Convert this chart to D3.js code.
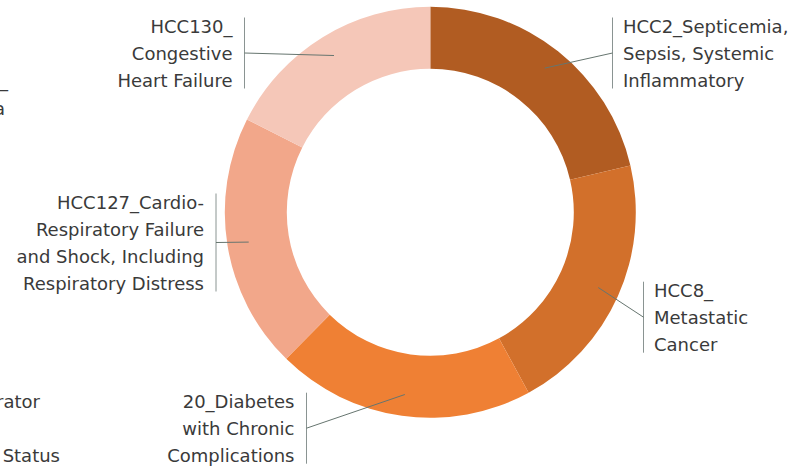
<!DOCTYPE html>
<html>
<head>
<meta charset="utf-8">
<script src="https://cdn.jsdelivr.net/npm/d3@7"></script>
<style>
  html, body { margin: 0; padding: 0; background: #fff; }
  svg { display: block; }
  text { font-family: "DejaVu Sans", sans-serif; font-size: 18px; fill: #3a3a3a; }
</style>
</head>
<body>
<svg id="chart" width="810" height="468"></svg>
<script>
// ---- data ----
const categories = [
  "HCC2_Septicemia, Sepsis, Systemic Inflammatory",
  "HCC8_Metastatic Cancer",
  "20_Diabetes with Chronic Complications",
  "HCC127_Cardio-Respiratory Failure and Shock, Including Respiratory Distress",
  "HCC130_Congestive Heart Failure"
];
const values = [21.35, 20.71, 20.31, 20.10, 17.54];
const labelLines = [
  ["HCC2_Septicemia,", "Sepsis, Systemic", "Inflammatory"],
  ["HCC8_", "Metastatic", "Cancer"],
  ["20_Diabetes", "with Chronic", "Complications"],
  ["HCC127_Cardio-", "Respiratory Failure", "and Shock, Including", "Respiratory Distress"],
  ["HCC130_", "Congestive", "Heart Failure"]
];
const colors = ["#b15c22", "#d2702b", "#ef8034", "#f2a78a", "#f5c7b8"];

// partially visible labels of a neighbouring chart (clipped at the left edge)
const offLabels = [
  { text: "HCC48_", x: 8, y: 87 },
  { text: "Anemia", x: 5, y: 115 },
  { text: "HCC82_Respirator", x: 40, y: 408 },
  { text: "Tracheostomy Status", x: 60, y: 462 }
];

// ---- layout ----
const cx = 430.3, cy = 212.3, rOuter = 205.5, rInner = 143.5, rLeader = 184;
const lineH = 27;
// label anchors: bar x, first baseline, side
const labelLayout = [
  { barX: 612.5, y0: 32.5, side: "right" },
  { barX: 643.5, y0: 296.7, side: "right" },
  { barX: 306.5, y0: 407.7, side: "left" },
  { barX: 216,   y0: 208.5, side: "left" },
  { barX: 244.5, y0: 32.5, side: "left" }
];

const svg = d3.select("#chart");
const g = svg.append("g").attr("transform", `translate(${cx},${cy})`);

const pie = d3.pie().sort(null).value(d => d)(values);
const arc = d3.arc().innerRadius(rInner).outerRadius(rOuter);
const leaderArc = d3.arc().innerRadius(rLeader).outerRadius(rLeader);

g.selectAll("path.slice")
  .data(pie)
  .join("path")
  .attr("class", "slice")
  .attr("d", arc)
  .attr("fill", (d, i) => colors[i]);

// labels
const lab = svg.append("g");
pie.forEach((d, i) => {
  const L = labelLayout[i];
  const lines = labelLines[i];
  const top = L.y0 - 15;
  const bottom = L.y0 + (lines.length - 1) * lineH + 2;
  const mid = (top + bottom) / 2;
  const [px, py] = leaderArc.centroid(d);
  lab.append("line")
    .attr("x1", L.barX).attr("x2", L.barX)
    .attr("y1", top).attr("y2", bottom)
    .attr("stroke", "#8a9492").attr("stroke-width", 1);
  lab.append("line")
    .attr("x1", L.barX).attr("y1", mid)
    .attr("x2", cx + px).attr("y2", cy + py)
    .attr("stroke", "#66756f").attr("stroke-width", 1);
  const tx = L.side === "right" ? L.barX + 10.5 : L.barX - 12;
  const t = lab.append("text")
    .attr("text-anchor", L.side === "right" ? "start" : "end");
  lines.forEach((ln, j) => {
    t.append("tspan").attr("x", tx).attr("y", L.y0 + j * lineH).text(ln);
  });
});

svg.append("g").selectAll("text")
  .data(offLabels)
  .join("text")
  .attr("text-anchor", "end")
  .attr("x", d => d.x)
  .attr("y", d => d.y)
  .text(d => d.text);
</script>
</body>
</html>
